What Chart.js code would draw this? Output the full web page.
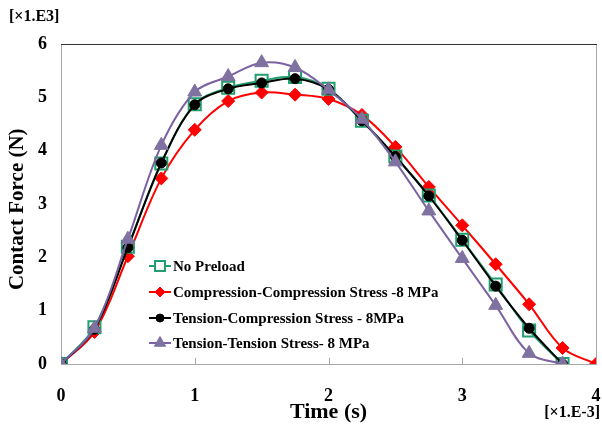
<!DOCTYPE html>
<html><head><meta charset="utf-8">
<script src="https://cdn.jsdelivr.net/npm/chart.js@4"></script>
<style>html,body{margin:0;padding:0;background:#fff}</style>
</head><body>
<canvas id="c" width="602" height="426"></canvas>
<script>
const FONT = "'Liberation Serif','Times New Roman',serif";
// time in units of 1e-3 s
const time = [0,0.25,0.5,0.75,1,1.25,1.5,1.75,2,2.25,2.5,2.75,3,3.25,3.5,3.75];
const timeLong = [0,0.25,0.5,0.75,1,1.25,1.5,1.75,2,2.25,2.5,2.75,3,3.25,3.5,3.75,4];
// contact force in units of 1e3 N
const noPreload      = [0,0.69,2.20,3.76,4.87,5.18,5.31,5.38,5.16,4.56,3.89,3.16,2.33,1.49,0.63,0];
const compression    = [0,0.60,2.02,3.48,4.39,4.93,5.09,5.05,4.97,4.67,4.07,3.32,2.60,1.87,1.12,0.30,0];
const tensionComp    = [0,0.65,2.18,3.77,4.86,5.16,5.27,5.35,5.15,4.56,3.89,3.15,2.32,1.46,0.67,0];
const tensionTension = [0,0.67,2.34,4.10,5.10,5.39,5.65,5.56,5.14,4.59,3.79,2.87,1.98,1.10,0.20,0];
const seriesNames = ['No Preload','Compression-Compression Stress -8 MPa','Tension-Compression Stress - 8MPa','Tension-Tension Stress- 8 MPa'];
const xTicks = [0,1,2,3,4];
const yTicks = [0,1,2,3,4,5,6];

const pts = (xs, ys) => ys.map((v,i)=>({x:xs[i], y:v}));

const datasets = [
  {label:seriesNames[0], data:pts(time,noPreload), borderColor:'#1f9e6e', backgroundColor:'rgba(0,0,0,0)',
   pointStyle:'rect', pointRadius:8.5, pointBorderWidth:2, pointBorderColor:'#1f9e6e', pointBackgroundColor:'rgba(0,0,0,0)', order:2},
  {label:seriesNames[1], data:pts(timeLong,compression), borderColor:'#ff0000', backgroundColor:'#ff0000',
   pointStyle:'rectRot', pointRadius:6.5, pointBorderWidth:1, pointBorderColor:'#ff0000', pointBackgroundColor:'#ff0000', order:3},
  {label:seriesNames[2], data:pts(time,tensionComp), borderColor:'#000000', backgroundColor:'#000',
   pointStyle:'circle', pointRadius:5, pointBorderWidth:1, pointBorderColor:'#000', pointBackgroundColor:'#000', order:1},
  {label:seriesNames[3], data:pts(time,tensionTension), borderColor:'#7b62a3', backgroundColor:'#7f72a0',
   pointStyle:'triangle', pointRadius:8, pointBorderWidth:1, pointBorderColor:'#7f72a0', pointBackgroundColor:'#7f72a0', order:0}
];
datasets.forEach(d=>{ d.borderWidth=2; d.tension=0.35; d.fill=false; d.pointHoverRadius=d.pointRadius; });

function marker(ctx, style, x, y, r, color, hollow){
  ctx.save();
  ctx.fillStyle=color; ctx.strokeStyle=color; ctx.lineWidth= hollow?2:1;
  ctx.beginPath();
  if(style==='rect'){ const s=r*Math.SQRT1_2; ctx.rect(x-s,y-s,2*s,2*s); }
  else if(style==='rectRot'){ ctx.moveTo(x,y-r); ctx.lineTo(x+r,y); ctx.lineTo(x,y+r); ctx.lineTo(x-r,y); ctx.closePath(); }
  else if(style==='circle'){ ctx.arc(x,y,r,0,Math.PI*2); }
  else if(style==='triangle'){ ctx.moveTo(x,y-r); ctx.lineTo(x+r*0.866,y+r*0.5); ctx.lineTo(x-r*0.866,y+r*0.5); ctx.closePath(); }
  if(hollow){ ctx.fillStyle='#fff'; ctx.fill(); ctx.stroke(); } else { ctx.fill(); ctx.stroke(); }
  ctx.restore();
}

const deco = {
  id:'deco',
  beforeDatasetsDraw(chart){
    const {ctx, chartArea:a, scales:{x}} = chart;
    ctx.save();
    ctx.lineWidth=1;
    ctx.strokeStyle='#a8a8a8';
    ctx.beginPath(); ctx.moveTo(Math.round(a.right)+0.5,a.top); ctx.lineTo(Math.round(a.right)+0.5,a.bottom); ctx.stroke();
    ctx.strokeStyle='#333';
    ctx.beginPath(); ctx.moveTo(a.left,Math.round(a.top)+0.5); ctx.lineTo(a.right+1,Math.round(a.top)+0.5); ctx.stroke();
    ctx.strokeStyle='#a8a8a8';
    xTicks.slice(1,-1).forEach(t=>{
      const px=Math.round(x.getPixelForValue(t))+0.5;
      ctx.beginPath(); ctx.moveTo(px,a.bottom); ctx.lineTo(px,a.bottom-6); ctx.stroke();
    });
    ctx.restore();
  },
  afterDraw(chart){
    const {ctx} = chart;
    ctx.save();
    // legend
    const legendX=149, legendY=[266,292,318,343];
    const lg=[{s:'rect',r:7,h:true},{s:'rectRot',r:5},{s:'circle',r:4},{s:'triangle',r:6.5}];
    ctx.font="bold 15px "+FONT; ctx.textBaseline='middle'; ctx.textAlign='left';
    chart.data.datasets.forEach((d,i)=>{
      const y=legendY[i];
      ctx.strokeStyle=d.borderColor; ctx.lineWidth=2;
      ctx.beginPath(); ctx.moveTo(legendX,y); ctx.lineTo(legendX+22,y); ctx.stroke();
      marker(ctx, lg[i].s, legendX+11, y, lg[i].r, d.pointBorderColor, !!lg[i].h);
      ctx.fillStyle='#000';
      ctx.fillText(d.label, legendX+24, y+1);
    });
    // multipliers
    ctx.font="bold 16px "+FONT;
    ctx.textBaseline='middle';
    ctx.fillText('[\u00d71.E3]', 9, 17);
    ctx.textAlign='right';
    ctx.fillText('[\u00d71.E-3]', 600, 413);
    ctx.restore();
  }
};

new Chart(document.getElementById('c'), {
  type:'line',
  data:{datasets},
  options:{
    responsive:false, animation:false,
    layout:{autoPadding:false, padding:{top:44,right:6,left:0,bottom:0}},
    plugins:{legend:{display:false}, tooltip:{enabled:false}},
    scales:{
      x:{type:'linear', min:0, max:4,
        afterBuildTicks:s=>{s.ticks=xTicks.map(v=>({value:v}));},
        afterFit:s=>{s.height=62; s.paddingLeft=0; s.paddingRight=0;},
        grid:{display:false, drawTicks:false},
        border:{display:true,color:'#a8a8a8',width:1},
        ticks:{padding:22, color:'#000', font:{family:FONT,size:18,weight:'bold'}},
        title:{display:true, text:'Time (s)', color:'#000', font:{family:FONT,size:22,weight:'bold'}, padding:{top:0,bottom:0}}
      },
      y:{type:'linear', min:0, max:6,
        afterBuildTicks:s=>{s.ticks=yTicks.map(v=>({value:v}));},
        afterFit:s=>{s.width=61; s.paddingTop=0; s.paddingBottom=0;},
        grid:{display:false, drawTicks:false},
        border:{display:true,color:'#a8a8a8',width:1},
        ticks:{padding:14, color:'#000', font:{family:FONT,size:18,weight:'bold'}},
        title:{display:true, text:'Contact Force (N)  ', color:'#000', font:{family:FONT,size:21,weight:'bold'}, padding:{top:5,bottom:0}}
      }
    }
  },
  plugins:[deco]
});
</script>
</body></html>
